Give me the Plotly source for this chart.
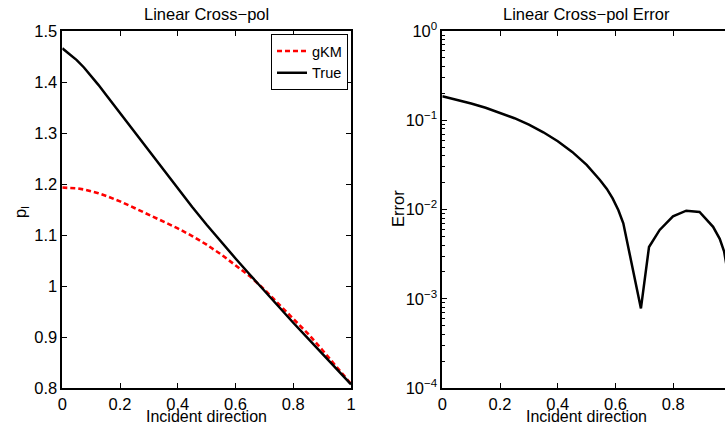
import plotly.graph_objects as go

# ---------------- data ----------------
x_dir = [0, 0.025, 0.05, 0.075, 0.1, 0.125, 0.15, 0.2, 0.25, 0.3, 0.35, 0.4, 0.45, 0.5,
         0.55, 0.6, 0.65, 0.7, 0.75, 0.8, 0.85, 0.9, 0.95, 1.0]
p_true = [1.466, 1.4553, 1.4429, 1.4285, 1.4124, 1.3944, 1.376, 1.339, 1.302, 1.265,
          1.228, 1.191, 1.155, 1.120, 1.086, 1.054, 1.022, 0.990, 0.959, 0.928,
          0.898, 0.867, 0.837, 0.807]
p_gkm = [1.193, 1.1926, 1.1915, 1.1893, 1.186, 1.1818, 1.177, 1.166, 1.153, 1.140,
         1.127, 1.113, 1.098, 1.081, 1.062, 1.041, 1.019, 0.993, 0.965, 0.935,
         0.907, 0.875, 0.841, 0.808]

x_err = [0, 0.05, 0.1, 0.15, 0.2, 0.25, 0.3, 0.35, 0.4, 0.45, 0.5, 0.532, 0.546, 0.57,
         0.59, 0.61, 0.627, 0.688, 0.716, 0.753, 0.799, 0.845, 0.891, 0.938, 0.961,
         0.976, 1.0]
err = [0.186, 0.170, 0.154, 0.138, 0.1216, 0.1054, 0.0891, 0.0733, 0.0582, 0.0442,
       0.0316, 0.0243, 0.0214, 0.0170, 0.0133, 0.0098, 0.0070, 0.00078, 0.0038,
       0.0059, 0.0084, 0.0097, 0.0094, 0.0064, 0.0047, 0.0034, 0.0012]

left_yticks = [0.8, 0.9, 1.0, 1.1, 1.2, 1.3, 1.4, 1.5]
x_ticks = [0, 0.2, 0.4, 0.6, 0.8, 1.0]
log_ticks = [1e-4, 1e-3, 1e-2, 1e-1, 1]
log_ticktext = ["10<sup>−4</sup>", "10<sup>−3</sup>", "10<sup>−2</sup>",
                "10<sup>−1</sup>", "10<sup>0</sup>"]
log_minor = [m * 10.0 ** e for e in range(-4, 0) for m in range(2, 10)]

# ---------------- figure ----------------
W, H = 725, 426
FONT = "Liberation Sans, Arial, Helvetica, sans-serif"
FS = 16.5
TFS = 16.5

def px(x):
    return x / W

def py(y):
    return 1 - y / H

L0, L1 = 62.3, 351.0
R0 = 442.3
T, B = 31.0, 388.0
span = L1 - L0
r_max = (W - R0) / span

fig = go.Figure()
fig.add_trace(go.Scatter(x=x_dir, y=p_gkm, mode="lines", name="gKM",
                         line=dict(color="#ff0000", width=2.6, dash="5px,3px"),
                         xaxis="x", yaxis="y"))
fig.add_trace(go.Scatter(x=x_dir, y=p_true, mode="lines", name="True",
                         line=dict(color="black", width=2.5),
                         xaxis="x", yaxis="y"))
fig.add_trace(go.Scatter(x=x_err, y=err, mode="lines", showlegend=False,
                         line=dict(color="black", width=2.5),
                         xaxis="x2", yaxis="y2"))

axcommon = dict(showgrid=False, zeroline=False, showline=True, linecolor="black",
                linewidth=1.6, ticks="inside", ticklen=5, tickcolor="black",
                automargin=False,
                tickfont=dict(family=FONT, size=TFS, color="black"))

fig.update_layout(
    width=W, height=H, margin=dict(l=0, r=0, t=0, b=0, pad=0, autoexpand=False),
    paper_bgcolor="white", plot_bgcolor="white",
    font=dict(family=FONT, size=FS, color="black"),
    xaxis=dict(domain=[px(L0), px(L1)], range=[0, 1], tickvals=x_ticks,
               mirror="ticks", anchor="y", **axcommon),
    yaxis=dict(domain=[py(B), py(T)], range=[0.8, 1.5], tickvals=left_yticks,
               mirror="ticks", anchor="x", **axcommon),
    xaxis2=dict(domain=[px(R0), 1.0], range=[0, r_max], tickvals=x_ticks[:-1],
                mirror="ticks", anchor="y2", **axcommon),
    yaxis2=dict(domain=[py(B), py(T)], type="log", range=[-4, 0],
                tickmode="array", tickvals=log_ticks, ticktext=log_ticktext,
                mirror=False, anchor="x2",
                minor=dict(tickmode="array", tickvals=log_minor, ticks="inside",
                           ticklen=3, tickcolor="black", showgrid=False),
                **axcommon),
    legend=dict(x=px(348), y=py(34), xanchor="right", yanchor="top",
                bgcolor="white", bordercolor="black", borderwidth=1,
                font=dict(family=FONT, size=14.5, color="black"),
                tracegroupgap=0, itemwidth=30),
    showlegend=True,
)

ann = [
    dict(text="Linear Cross−pol", x=px((L0 + L1) / 2), y=py(14), fs=FS),
    dict(text="Linear Cross−pol Error", x=px(R0 + span / 2), y=py(14), fs=FS),
    dict(text="Incident direction", x=px((L0 + L1) / 2), y=py(416.5), fs=16),
    dict(text="Incident direction", x=px(R0 + span / 2), y=py(416.5), fs=16),
    dict(text="p<sub>l</sub>", x=px(21), y=py(212), textangle=-90, fs=FS),
    dict(text="Error", x=px(398), y=py(209), textangle=-90, fs=FS),
]
for a in ann:
    fs = a.pop("fs")
    fig.add_annotation(xref="paper", yref="paper", showarrow=False,
                       xanchor="center", yanchor="middle",
                       font=dict(family=FONT, size=fs, color="black"), **a)

fig.write_html("out.html", config={"displayModeBar": False},
               post_script="document.body.style.margin='0px';document.body.style.padding='0px';")
